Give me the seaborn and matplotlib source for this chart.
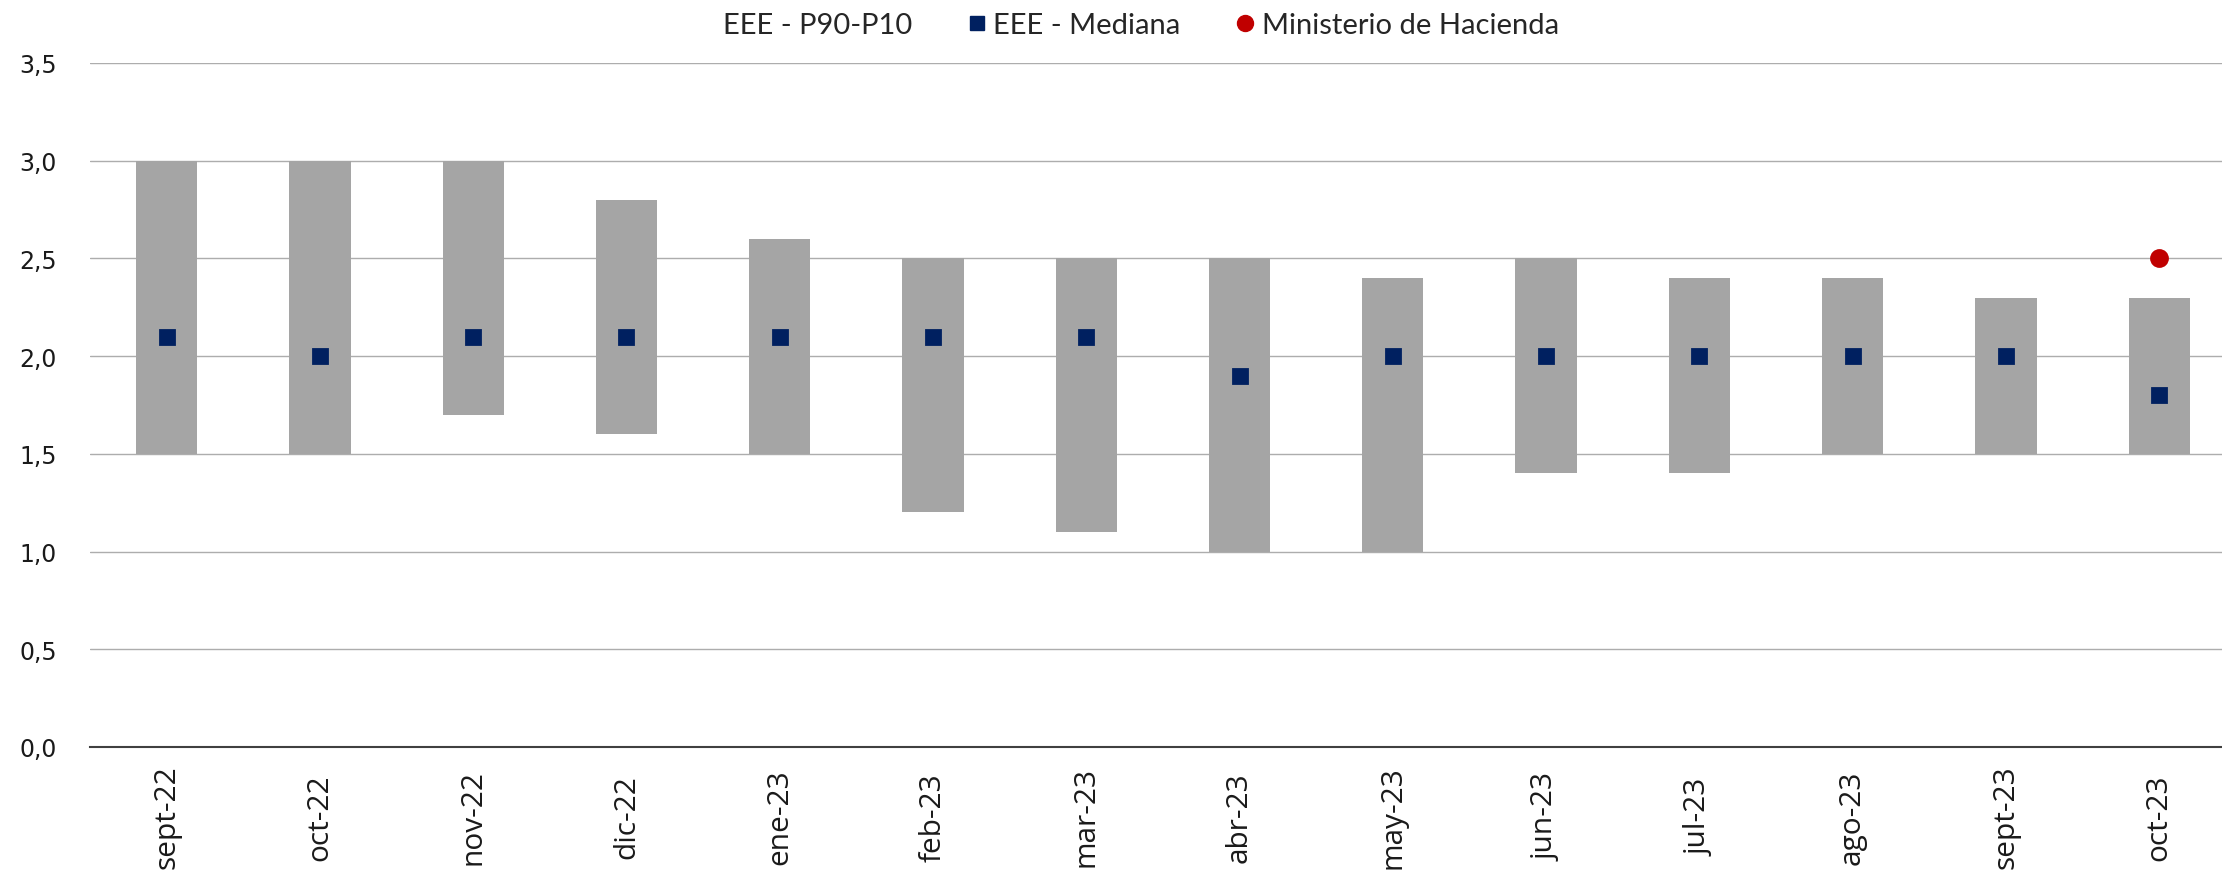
import numpy as np
import pandas as pd
import matplotlib
matplotlib.use("Agg")
import matplotlib.pyplot as plt
from matplotlib import font_manager
from matplotlib.lines import Line2D
from matplotlib.patches import Patch
import seaborn as sns

categories = ["sept-22", "oct-22", "nov-22", "dic-22", "ene-23", "feb-23", "mar-23",
              "abr-23", "may-23", "jun-23", "jul-23", "ago-23", "sept-23", "oct-23"]
p90 = [3.0, 3.0, 3.0, 2.8, 2.6, 2.5, 2.5, 2.5, 2.4, 2.5, 2.4, 2.4, 2.3, 2.3]
p10 = [1.5, 1.5, 1.7, 1.6, 1.5, 1.2, 1.1, 1.0, 1.0, 1.4, 1.4, 1.5, 1.5, 1.5]
mediana = [2.1, 2.0, 2.1, 2.1, 2.1, 2.1, 2.1, 1.9, 2.0, 2.0, 2.0, 2.0, 2.0, 1.8]
hacienda = [np.nan] * 13 + [2.5]
yticks = [0.0, 0.5, 1.0, 1.5, 2.0, 2.5, 3.0, 3.5]

df = pd.DataFrame({"cat": categories, "p90": p90, "p10": p10,
                   "med": mediana, "hac": hacienda})
df["rng"] = df["p90"] - df["p10"]

sns.set_theme(style="white")
names = {f.name for f in font_manager.fontManager.ttflist}
legend_font = "Liberation Sans Narrow" if "Liberation Sans Narrow" in names else "Lato"
plt.rcParams["font.family"] = ["DejaVu Sans"]

fig = plt.figure(figsize=(22.22, 8.79), dpi=100)
ax = fig.add_axes([90 / 2222, 1 - 748 / 879, 1 - 90 / 2222, (748 - 64) / 879])

GRAY = "#A5A5A5"
NAVY = "#002060"
RED = "#C00000"

sns.barplot(data=df, x="cat", y="rng", bottom=df["p10"].values, order=categories,
            color=GRAY, width=0.4, saturation=1, edgecolor="none", ax=ax, zorder=2)
sns.pointplot(data=df, x="cat", y="med", order=categories, color=NAVY,
              linestyle="none", marker="s", markersize=10, errorbar=None,
              ax=ax, zorder=4)
sns.pointplot(data=df, x="cat", y="hac", order=categories, color=RED,
              linestyle="none", marker="o", markersize=11.5, errorbar=None,
              ax=ax, zorder=4)

ax.set_xlim(-0.5, 13.41)
ax.set_ylim(0, 3.5)
ax.set_yticks(yticks)
ax.set_yticklabels([f"{v:.1f}".replace(".", ",") for v in yticks])
ax.set_xlabel("")
ax.set_ylabel("")
ax.yaxis.grid(True, color="#ADADAD", linewidth=1.0, zorder=0)
ax.set_axisbelow(True)
for s in ["top", "right", "left"]:
    ax.spines[s].set_visible(False)
ax.spines["bottom"].set_color("#404040")
ax.spines["bottom"].set_linewidth(1.5)
ax.spines["bottom"].set_zorder(5)
ax.tick_params(axis="y", length=0, pad=24, labelsize=17, labelcolor="#1a1a1a")
ax.tick_params(axis="x", length=0, pad=50, labelsize=21.5, labelcolor="#1a1a1a")
for lab in ax.get_xticklabels():
    lab.set_rotation(90)
    lab.set_va("center")
    lab.set_ha("center")
    lab.set_fontfamily(["Open Sans", "DejaVu Sans"])

handles = [
    Patch(facecolor="none", edgecolor="none"),
    Line2D([], [], linestyle="none", marker="s", color=NAVY, markersize=10),
    Line2D([], [], linestyle="none", marker="o", color=RED, markersize=11.5),
]
labels = ["EEE - P90-P10", "EEE - Mediana", "Ministerio de Hacienda"]
fig.legend(handles, labels, loc="center", bbox_to_anchor=(1127 / 2222, 1 - 26 / 879),
           ncol=3, frameon=False, handlelength=0.8, handletextpad=0.155,
           columnspacing=1.82, prop={"family": legend_font, "size": 21})

fig.savefig("out.png", dpi=100)
